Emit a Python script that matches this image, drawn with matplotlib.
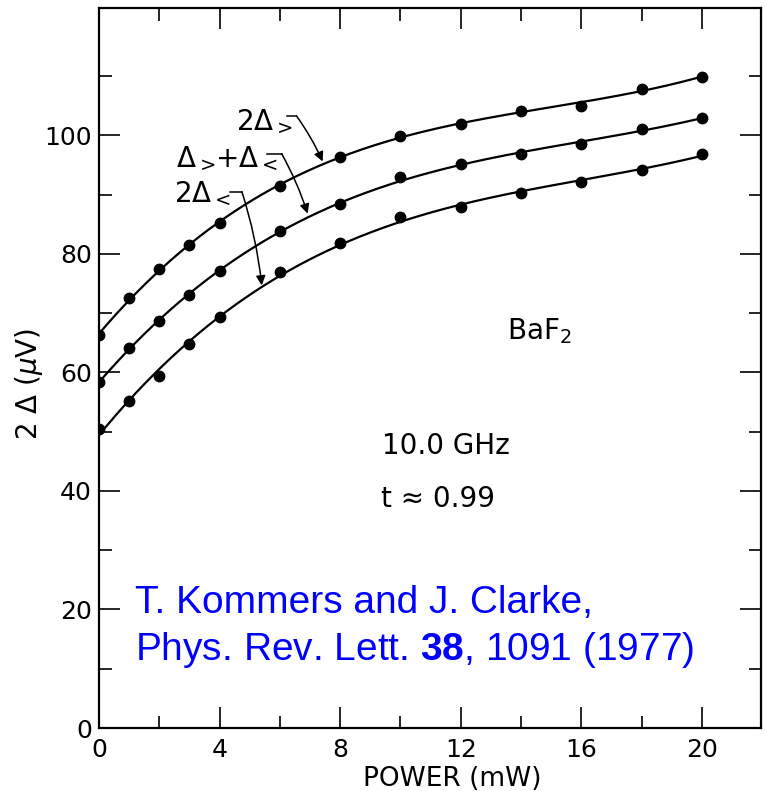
import numpy as np
import matplotlib
matplotlib.use("Agg")
import matplotlib.pyplot as plt

# ---- data ----
power = [0, 1, 2, 3, 4, 6, 8, 10, 12, 14, 16, 18, 20]
gap_2dg = [66.3, 72.5, 77.4, 81.5, 85.3, 91.4, 96.4, 99.9, 102.0, 104.2, 105.0, 107.8, 109.9]
gap_sum = [58.4, 64.2, 68.7, 73.1, 77.1, 83.8, 88.4, 93.0, 95.1, 96.8, 98.6, 101.1, 102.9]
gap_2dl = [50.4, 55.2, 59.4, 64.8, 69.3, 76.9, 81.8, 86.2, 88.0, 90.3, 92.2, 94.1, 96.9]

x_ticks_major = [0, 4, 8, 12, 16, 20]
x_tick_labels = ["0", "4", "8", "12", "16", "20"]
y_ticks_major = [0, 20, 40, 60, 80, 100]
y_tick_labels = ["0", "20", "40", "60", "80", "100"]

plt.rcParams['mathtext.fontset'] = 'dejavusans'
plt.rcParams['mathtext.bf'] = 'Liberation Sans:bold'
plt.rcParams['mathtext.rm'] = 'Liberation Sans'

W, H = 767, 791
fig = plt.figure(figsize=(W / 100, H / 100), dpi=100)
L, R, B, T = 99, 761, 728, 8
ax = fig.add_axes([L / W, 1 - B / H, (R - L) / W, (B - T) / H])

ax.set_xlim(0, 21.96)
ax.set_ylim(0, 121.5)

xs = np.linspace(0, 20, 200)
for ys in (gap_2dg, gap_sum, gap_2dl):
    coef = np.polyfit(power, ys, 3)
    ax.plot(xs, np.polyval(coef, xs), color='black', lw=1.6, zorder=2)
    ax.plot(power, ys, 'o', color='black', ms=7.5, zorder=3)

# ticks
ax.set_xticks(x_ticks_major)
ax.set_xticklabels(x_tick_labels)
ax.set_xticks([2, 6, 10, 14, 18], minor=True)
ax.set_yticks(y_ticks_major)
ax.set_yticklabels(y_tick_labels)
ax.set_yticks([10, 30, 50, 70, 90, 110], minor=True)
ax.tick_params(which='both', direction='in', top=True, right=True, width=1.2, color='black')
ax.tick_params(which='major', length=15)
ax.tick_params(which='minor', length=9)
ax.tick_params(axis='y', which='major', labelsize=18, pad=5)
ax.tick_params(axis='x', which='major', labelsize=18, pad=7)
for s in ax.spines.values():
    s.set_linewidth(1.6)

ax.set_ylabel('2 Δ (' + r'$\mu$' + 'V)', fontsize=20)
ax.yaxis.set_label_coords((45 - L) / (R - L), 0.478)
ax.set_xlabel('POWER (mW)', fontsize=19)
ax.xaxis.set_label_coords((452 - L) / (R - L), -0.053)

# curve labels and arrows
tsize = 20
ax.text(4.55, 101.1, r'$2\Delta_{>}$', fontsize=tsize, ha='left', va='baseline')
ax.text(2.55, 94.9, r'$\Delta_{>}\!{+}\Delta_{<}$', fontsize=tsize, ha='left', va='baseline')
ax.text(2.48, 88.9, r'$2\Delta_{<}$', fontsize=tsize, ha='left', va='baseline')

arrows = [((6.25, 103.3), (6.55, 103.3), (7.42, 95.6)),
          ((5.56, 96.9), (6.06, 96.9), (6.92, 86.8)),
          ((4.34, 90.5), (4.74, 90.5), (5.40, 74.7))]
for start, corner, tip in arrows:
    ax.plot([start[0], corner[0]], [start[1], corner[1]], color='black', lw=1.1)
    ax.annotate('', xy=tip, xytext=corner,
                arrowprops=dict(arrowstyle='-|>', color='black', lw=1.1,
                                mutation_scale=14, shrinkA=0, shrinkB=0,
                                connectionstyle='arc3,rad=-0.05'))

ax.text(14.6, 67, r'BaF$_2$', fontsize=20, ha='center', va='center')
ax.text(9.38, 47.6, '10.0 GHz', fontsize=20, ha='left', va='center')
ax.text(9.34, 38.6, 't ≈ 0.99', fontsize=20, ha='left', va='center')

ax.text(135 / W, 1 - 603 / H, 'T. Kommers and J. Clarke,', transform=fig.transFigure,
        fontsize=28, color='#0000ff', family='Liberation Sans', ha='left', va='center')
ax.text(135 / W, 1 - 650 / H, r'Phys. Rev. Lett. $\mathbf{38}$, 1091 (1977)',
        transform=fig.transFigure, fontsize=28, color='#0000ff',
        family='Liberation Sans', ha='left', va='center', math_fontfamily='custom')

fig.savefig('out.png', dpi=100)
